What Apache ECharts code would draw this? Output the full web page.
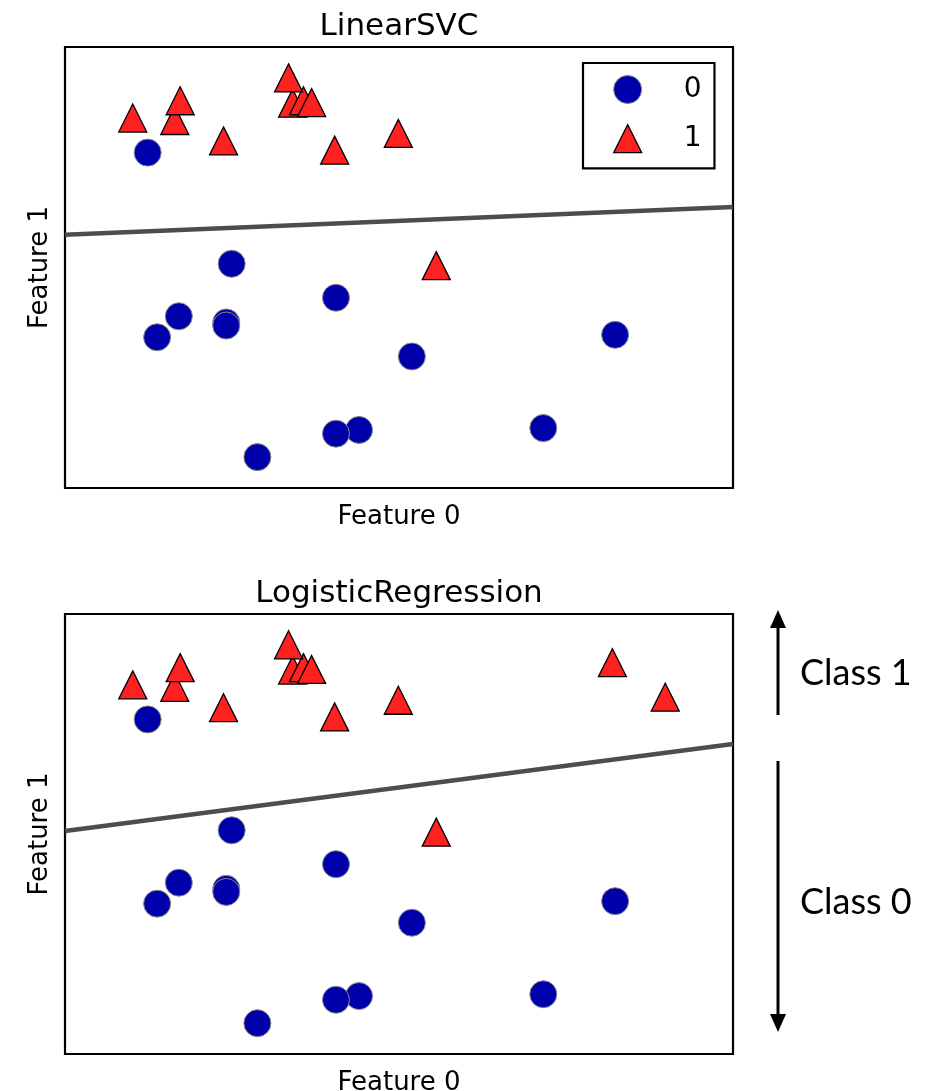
<!DOCTYPE html>
<html>
<head>
<meta charset="utf-8">
<script src="https://cdn.jsdelivr.net/npm/echarts@6/dist/echarts.min.js"></script>
<style>
html,body{margin:0;padding:0;background:#fff;}
#chart{width:935px;height:1091px;}
</style>
</head>
<body>
<div id="chart"></div>
<script>
// ---- Data (forge-like dataset) ----
const class0Points = [
  [11.03, -0.17], [8.69, 1.54], [8.11, 4.29], [9.67, -0.20], [8.69, 1.49],
  [8.92, -0.64], [8.18, 1.30], [8.73, 2.49], [10.06, 0.99], [9.50, -0.26],
  [8.34, 1.64], [9.50, 1.94], [11.56, 1.34]
];
const class1Points = [
  [9.96, 4.60], [11.54, 5.21], [8.31, 4.81], [11.93, 4.65], [8.35, 5.13],
  [8.67, 4.48], [9.18, 5.09], [10.24, 2.46], [9.49, 4.33], [9.26, 5.13],
  [8.00, 4.85], [9.32, 5.10], [9.15, 5.50]
];
const classNames = ['0', '1'];
const modelTitles = ['LinearSVC', 'LogisticRegression'];
// decision boundaries: [x, y] at the left and right edges of the plot
const svcBoundary = [[7.50, 2.96], [12.43, 3.41]];
const logregBoundary = [[7.50, 2.48], [12.43, 3.89]];
const axisNames = ['Feature 0', 'Feature 1'];
const classLabels = ['Class 1', 'Class 0'];

// axis ranges: data extent +/- 0.5
const eps = 0.5;
const allX = class0Points.concat(class1Points).map(p => p[0]);
const allY = class0Points.concat(class1Points).map(p => p[1]);
const xMin = Math.min(...allX) - eps, xMax = Math.max(...allX) + eps;
const yMin = Math.min(...allY) - eps, yMax = Math.max(...allY) + eps;

const BLUE = '#0000aa', RED = '#ff2020';
const FONT = 'DejaVu Sans';

function mkX(gi) {
  return {
    gridIndex: gi, type: 'value', min: xMin, max: xMax,
    axisLine: {show: false}, axisTick: {show: false}, axisLabel: {show: false},
    splitLine: {show: false},
    name: axisNames[0], nameLocation: 'middle', nameGap: 16,
    nameTextStyle: {fontFamily: FONT, fontSize: 26, color: '#000', lineHeight: 26}
  };
}
function mkY(gi) {
  return {
    gridIndex: gi, type: 'value', min: yMin, max: yMax,
    axisLine: {show: false}, axisTick: {show: false}, axisLabel: {show: false},
    splitLine: {show: false},
    name: axisNames[1], nameLocation: 'middle', nameGap: 12, nameRotate: 90,
    nameTextStyle: {fontFamily: FONT, fontSize: 26, color: '#000', lineHeight: 26}
  };
}
function scatterSeries(gi) {
  return [
    {
      name: classNames[0], type: 'scatter', xAxisIndex: gi, yAxisIndex: gi,
      data: class0Points, symbol: 'circle', symbolSize: 27, z: 3,
      itemStyle: {color: BLUE, borderColor: '#888', borderWidth: 1, opacity: 1},
      emphasis: {disabled: true}
    },
    {
      name: classNames[1], type: 'scatter', xAxisIndex: gi, yAxisIndex: gi,
      data: class1Points, symbol: 'triangle', symbolSize: 28, z: 4,
      itemStyle: {color: RED, borderColor: '#000', borderWidth: 1.3, opacity: 1},
      emphasis: {disabled: true}
    }
  ];
}
function boundarySeries(gi, data) {
  return {
    type: 'line', xAxisIndex: gi, yAxisIndex: gi, data: data,
    showSymbol: false, symbol: 'none', z: 1, silent: true, clip: true,
    lineStyle: {color: '#4d4d4d', width: 4.5}
  };
}

const gridX = 65, gridW = 668;
const grids = [
  {left: gridX, top: 47, width: gridW, height: 441},
  {left: gridX, top: 614, width: gridW, height: 440}
];

const arrowX = 778;
const option = {
  backgroundColor: '#fff',
  animation: false,
  grid: grids.map(g => Object.assign({
    show: true, borderColor: '#000', borderWidth: 2.2, backgroundColor: '#fff',
    containLabel: false, outerBoundsMode: 'none'
  }, g)),
  xAxis: [mkX(0), mkX(1)],
  yAxis: [mkY(0), mkY(1)],
  legend: {
    data: [
      {name: classNames[0], icon: 'circle', itemStyle: {color: BLUE, borderColor: '#888', borderWidth: 1}},
      {name: classNames[1], icon: 'triangle', itemStyle: {color: RED, borderColor: '#000', borderWidth: 1.3}}
    ],
    orient: 'vertical', left: 583, top: 63,
    padding: [12, 13, 15, 30], itemGap: 20, itemWidth: 28, itemHeight: 28,
    backgroundColor: '#fff', borderColor: '#000', borderWidth: 2.2, borderRadius: 0,
    selectedMode: false, z: 10,
    textStyle: {fontFamily: FONT, fontSize: 28, color: '#000', padding: [0, 0, 0, 37]}
  },
  graphic: [
    {type: 'text', x: gridX + gridW / 2, y: 11, z: 10,
     style: {text: modelTitles[0], font: '31px "DejaVu Sans"', fill: '#000', align: 'center', verticalAlign: 'top'}},
    {type: 'text', x: gridX + gridW / 2, y: 578, z: 10,
     style: {text: modelTitles[1], font: '31px "DejaVu Sans"', fill: '#000', align: 'center', verticalAlign: 'top'}},
    // Class annotations
    {type: 'line', shape: {x1: arrowX, y1: 715, x2: arrowX, y2: 625}, style: {stroke: '#000', lineWidth: 3}},
    {type: 'polygon', shape: {points: [[arrowX, 610], [arrowX - 8, 628], [arrowX + 8, 628]]}, style: {fill: '#000'}},
    {type: 'line', shape: {x1: arrowX, y1: 761, x2: arrowX, y2: 1017}, style: {stroke: '#000', lineWidth: 3}},
    {type: 'polygon', shape: {points: [[arrowX, 1032], [arrowX - 8, 1014], [arrowX + 8, 1014]]}, style: {fill: '#000'}},
    {type: 'text', x: 800, y: 673,
     style: {text: classLabels[0], font: '36px Lato', fill: '#000', align: 'left', verticalAlign: 'middle'}},
    {type: 'text', x: 800, y: 902,
     style: {text: classLabels[1], font: '36px Lato', fill: '#000', align: 'left', verticalAlign: 'middle'}}
  ],
  series: [
    boundarySeries(0, svcBoundary),
    ...scatterSeries(0),
    boundarySeries(1, logregBoundary),
    ...scatterSeries(1)
  ]
};

const chart = echarts.init(document.getElementById('chart'), null, {renderer: 'canvas'});
chart.setOption(option);
</script>
</body>
</html>
